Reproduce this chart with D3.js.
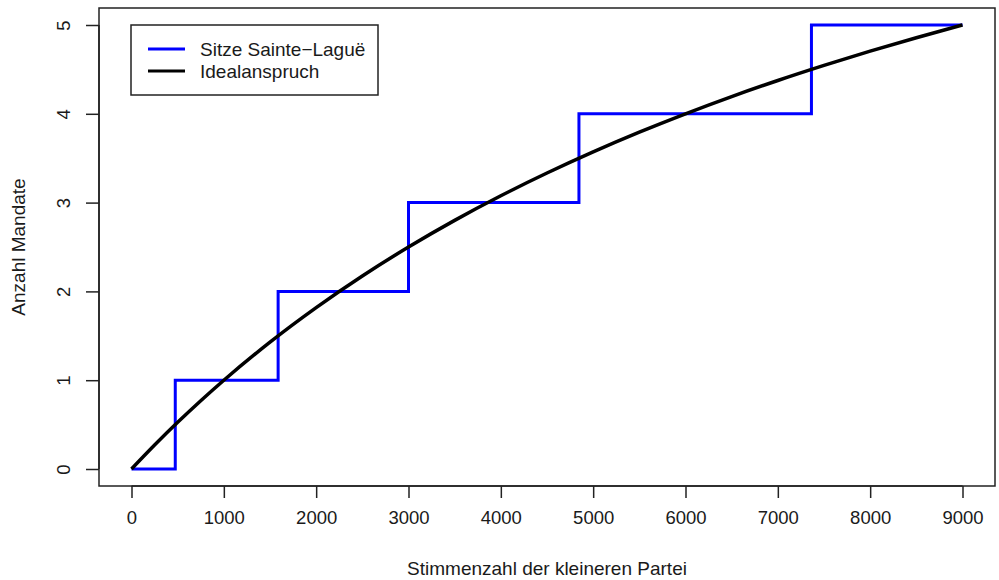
<!DOCTYPE html>
<html><head><meta charset="utf-8">
<script src="https://cdn.jsdelivr.net/npm/d3@7"></script>
<style>body{margin:0;background:#fff}svg{display:block}text{font-family:"Liberation Sans",Arial,sans-serif;fill:#1a1a1a}</style>
</head><body><svg id="c" width="999" height="580"></svg>
<script>
const xTicks=[0,1000,2000,3000,4000,5000,6000,7000,8000,9000];
const yTicks=[0,1,2,3,4,5];
// Sainte-Laguë seats: step points (votes, seats)
const stepX=[0,474,1588,3000,4846,7364,9000];
const stepY=[0,1,2,3,4,5,5];
// Ideal entitlement sampled along the curve
const idealX=[0,250,500,750,1000,1500,2000,2500,3000,3500,4000,4500,5000,5500,6000,6500,7000,7500,8000,8500,9000];
const idealY=[0,0.27,0.526,0.769,1,1.429,1.818,2.174,2.5,2.8,3.077,3.333,3.571,3.793,4,4.194,4.375,4.545,4.706,4.857,5];
const legendLabels=["Sitze Sainte\u2212Lagu\u00eb","Idealanspruch"];
const colors=["#0000ff","#000000"];

const svg=d3.select("#c");
const x=d3.scaleLinear().domain([0,9000]).range([131.5,962.5]);
const y=d3.scaleLinear().domain([0,5]).range([469,25]);
const box={l:99,r:995,t:8,b:486};
const FS=18.5;

svg.append("rect").attr("x",box.l).attr("y",box.t).attr("width",box.r-box.l).attr("height",box.b-box.t)
 .attr("fill","none").attr("stroke","#222").attr("stroke-width",1.5);

const xa=svg.append("g").attr("transform",`translate(0,${box.b})`)
 .call(d3.axisBottom(x).tickValues(xTicks).tickSize(12).tickSizeOuter(0).tickPadding(13).tickFormat(d3.format("d")));
xa.select(".domain").attr("d",`M${x(0)},0H${x(9000)}`).attr("stroke","#222").attr("stroke-width",1.5);
xa.selectAll(".tick line").attr("stroke","#222").attr("stroke-width",1.5);
xa.selectAll("text").attr("font-size",FS).attr("fill","#1a1a1a").style("font-family","Liberation Sans, Arial, sans-serif");

const ya=svg.append("g").attr("transform",`translate(${box.l},0)`)
 .call(d3.axisLeft(y).tickValues(yTicks).tickSize(13).tickSizeOuter(0).tickPadding(0).tickFormat(d3.format("d")));
ya.select(".domain").attr("d",`M0,${y(0)}V${y(5)}`).attr("stroke","#222").attr("stroke-width",1.5);
ya.selectAll(".tick line").attr("stroke","#222").attr("stroke-width",1.5);
ya.selectAll(".tick text").attr("x",0).attr("text-anchor","middle")
 .attr("transform","translate(-35,0) rotate(-90)").attr("dy","0.35em")
 .attr("font-size",FS).attr("fill","#1a1a1a").style("font-family","Liberation Sans, Arial, sans-serif");

svg.append("text").attr("x",(box.l+box.r)/2).attr("y",575).attr("text-anchor","middle").attr("font-size",19).text("Stimmenzahl der kleineren Partei");
svg.append("text").attr("transform",`translate(25,${(box.t+box.b)/2}) rotate(-90)`).attr("text-anchor","middle").attr("font-size",19).text("Anzahl Mandate");

const stepData=stepX.map((v,i)=>[v,stepY[i]]);
svg.append("path").datum(stepData).attr("fill","none").attr("stroke",colors[0]).attr("stroke-width",3)
 .attr("d",d3.line().x(d=>x(d[0])).y(d=>y(d[1])).curve(d3.curveStepAfter));

const idealData=idealX.map((v,i)=>[v,idealY[i]]);
svg.append("path").datum(idealData).attr("fill","none").attr("stroke",colors[1]).attr("stroke-width",3.5)
 .attr("d",d3.line().x(d=>x(d[0])).y(d=>y(d[1])).curve(d3.curveMonotoneX));

const lg=svg.append("g");
lg.append("rect").attr("x",131).attr("y",25).attr("width",247).attr("height",70).attr("fill","#fff").attr("stroke","#222").attr("stroke-width",1.5);
legendLabels.forEach((t,i)=>{
  const yy=49+i*22;
  lg.append("line").attr("x1",148).attr("x2",185).attr("y1",yy).attr("y2",yy).attr("stroke",colors[i]).attr("stroke-width",3);
  lg.append("text").attr("x",200).attr("y",yy).attr("dy","0.35em").attr("font-size",19).text(t);
});
</script></body></html>
